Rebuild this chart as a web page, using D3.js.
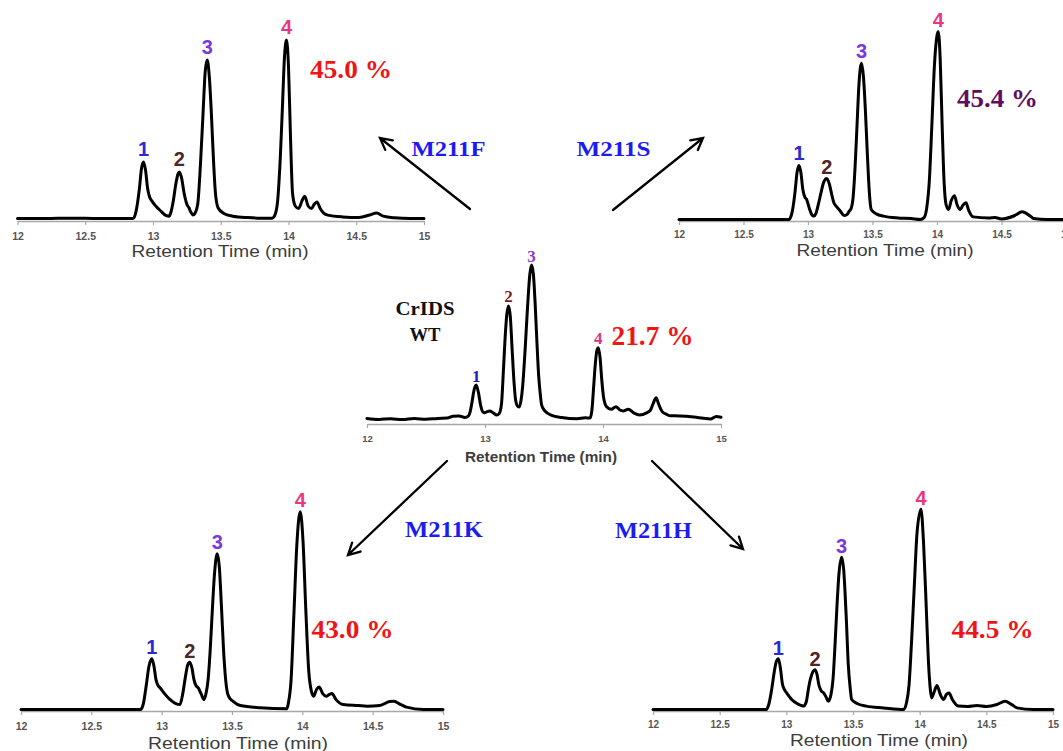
<!DOCTYPE html>
<html>
<head>
<meta charset="utf-8">
<script src="https://cdn.jsdelivr.net/npm/d3@7"></script>
<style>
  html, body { margin: 0; padding: 0; background: #fff; }
  svg { display: block; }
</style>
</head>
<body>
<svg id="chart" width="1063" height="751"></svg>
<script>
// Retention-time window and axis tick values
const timeDomain = [12, 15];
const ticksHalf = [12, 12.5, 13, 13.5, 14, 14.5, 15];
const ticksWhole = [12, 13, 14, 15];
const axisTitle = "Retention Time (min)";

// Chromatogram traces: [retention time (min), relative intensity (% of tallest peak)]
const traceWT = [
  [12.00,0.3],[12.10,-0.3],[12.20,0.2],[12.30,-0.4],[12.40,0.3],[12.50,-0.2],[12.60,0.4],[12.68,0.6],
  [12.73,1.8],[12.78,2],[12.83,1],[12.86,2],[12.875,5],[12.89,11],[12.905,18],[12.925,22],[12.945,17],
  [12.96,10],[12.975,5.5],[12.99,4],[13.01,4.5],[13.04,5.2],[13.07,4],[13.10,2.6],[13.12,3.5],
  [13.14,10],[13.155,30],[13.17,52],[13.185,68],[13.20,73.4],[13.215,66],[13.23,45],[13.245,25],
  [13.26,12],[13.28,8],[13.29,7.8],[13.305,12],[13.32,22],[13.34,45],[13.36,72],[13.38,94],[13.395,100],
  [13.41,94],[13.425,75],[13.44,50],[13.455,28],[13.47,15],[13.48,9],[13.51,5],[13.565,2.4],[13.65,1],
  [13.78,0.2],[13.85,0.8],[13.89,0.6],[13.905,5],[13.92,20],[13.935,36],[13.95,45],[13.96,46.3],
  [13.975,40],[13.99,25],[14.005,14],[14.03,8],[14.07,6.3],[14.11,8],[14.14,6],[14.17,5.2],[14.215,6.3],
  [14.26,4],[14.31,2.6],[14.37,4],[14.40,5.5],[14.425,10],[14.45,13.8],[14.47,10],[14.50,5],[14.54,3],
  [14.57,2.1],[14.65,2],[14.77,1.3],[14.85,0.5],[14.91,0],[14.96,1.7],[15.00,1.1]
];
const traceF = [
  [12.00,0],[12.20,0],[12.40,0.2],[12.60,0],[12.80,0],[12.85,0],[12.86,0.5],[12.88,6],[12.90,17],
  [12.915,28],[12.93,31.7],[12.945,27],[12.96,17],[12.975,12],[12.99,10],[13.02,7],[13.06,4],[13.10,1.5],
  [13.12,1.3],[13.13,3],[13.15,10],[13.17,20],[13.185,25],[13.195,26.1],[13.21,23],[13.23,14],[13.25,8],
  [13.265,6],[13.28,3.5],[13.295,2],[13.31,3],[13.33,8],[13.35,30],[13.37,60],[13.385,82],[13.40,88.8],
  [13.415,80],[13.43,60],[13.445,35],[13.46,15],[13.48,6],[13.52,3],[13.59,1.3],[13.70,0.5],[13.80,0.2],
  [13.88,0.2],[13.90,2],[13.92,10],[13.94,35],[13.955,62],[13.97,90],[13.985,100],[14.00,85],[14.015,45],
  [14.03,14],[14.05,7],[14.075,5.6],[14.10,10],[14.12,12.5],[14.145,7],[14.17,5.6],[14.19,8],[14.21,9.3],
  [14.235,5.5],[14.26,3],[14.29,1.9],[14.40,0.9],[14.52,0.6],[14.60,2],[14.65,3.1],[14.70,1.3],
  [14.78,0.4],[14.90,0],[15.00,0]
];
const traceS = [
  [12.00,0],[12.30,0],[12.60,0],[12.80,0],[12.85,0],[12.86,0.5],[12.88,5],[12.90,15],[12.915,25],
  [12.93,28.8],[12.945,25],[12.96,16],[12.975,12],[12.99,10.6],[13.01,6],[13.03,2.5],[13.045,1.8],
  [13.06,3],[13.08,8],[13.10,14],[13.12,19.5],[13.145,21.8],[13.165,19],[13.185,13],[13.20,9],[13.22,7],
  [13.25,4.5],[13.28,2.1],[13.30,2.5],[13.32,4.5],[13.335,6],[13.35,12],[13.365,28],[13.38,50],
  [13.395,72],[13.415,83.2],[13.43,76],[13.445,58],[13.46,35],[13.475,15],[13.49,5.3],[13.53,3],
  [13.585,1.8],[13.70,0.8],[13.80,0.5],[13.87,0],[13.90,1],[13.92,6],[13.94,20],[13.96,50],[13.98,82],
  [14.00,98],[14.01,100],[14.025,85],[14.04,50],[14.055,20],[14.07,8],[14.09,5.3],[14.11,10],[14.135,12.7],
  [14.155,8],[14.18,5.3],[14.20,7.5],[14.225,8.9],[14.245,5],[14.28,1.4],[14.40,0.8],[14.45,1],
  [14.50,0.3],[14.60,2],[14.66,4.1],[14.72,2],[14.75,0.5],[14.85,0],[15.00,0]
];
const traceK = [
  [12.00,0],[12.30,0],[12.60,0],[12.80,0],[12.85,0],[12.87,3],[12.89,12],[12.91,22],[12.93,25.7],
  [12.945,22],[12.96,15],[12.975,12],[12.99,10.9],[13.02,8],[13.06,5],[13.10,3],[13.13,2.5],[13.15,8],
  [13.17,17],[13.185,22.5],[13.20,23.9],[13.215,21],[13.23,15],[13.245,12],[13.26,10.9],[13.28,8],
  [13.30,5],[13.315,8],[13.33,15],[13.345,30],[13.36,50],[13.375,68],[13.395,78.7],[13.41,72],
  [13.425,52],[13.44,30],[13.455,15],[13.475,6.7],[13.51,4],[13.56,2],[13.70,0.9],[13.89,0.4],
  [13.90,3],[13.92,15],[13.94,48],[13.96,82],[13.985,100],[14.005,85],[14.025,50],[14.045,20],
  [14.065,9],[14.08,6.7],[14.10,10],[14.12,11.4],[14.145,8],[14.17,6.7],[14.19,7.5],[14.21,8.1],
  [14.24,5],[14.29,2.5],[14.40,2],[14.46,1.7],[14.55,2],[14.62,4],[14.65,4.2],[14.70,2.5],[14.74,1.2],
  [14.86,0],[15.00,0]
];
const traceH = [
  [12.00,0],[12.30,0],[12.60,0],[12.80,0],[12.85,0],[12.87,3],[12.89,10],[12.91,19],[12.925,24],
  [12.94,25.4],[12.955,21],[12.97,13],[12.985,10],[13.00,8.5],[13.04,5],[13.08,3],[13.13,1.7],[13.15,4],
  [13.165,10],[13.18,15],[13.20,19],[13.215,19.9],[13.23,17.5],[13.245,12],[13.26,9.5],[13.28,8.3],
  [13.30,6],[13.315,4.1],[13.335,7.5],[13.35,15],[13.365,32],[13.38,52],[13.395,68],[13.415,76.1],
  [13.43,70],[13.45,45],[13.465,22],[13.48,10],[13.49,5],[13.53,3],[13.60,1.7],[13.73,0.8],[13.88,0],
  [13.90,3],[13.92,12],[13.94,35],[13.96,62],[13.98,88],[14.01,100],[14.03,82],[14.05,50],[14.065,25],
  [14.08,10],[14.09,5.8],[14.11,9],[14.13,12],[14.155,7.5],[14.18,5],[14.20,7.5],[14.22,8.3],[14.245,5],
  [14.29,1.7],[14.36,1.5],[14.43,2],[14.50,1.5],[14.58,2.5],[14.64,4.1],[14.69,2.5],[14.73,0.8],
  [14.85,0],[15.00,0]
];

// Retention times of the numbered products in each run
const peakNumbers = ["1", "2", "3", "4"];
const peakTimesWT = [12.925, 13.20, 13.395, 13.96];
const peakTimesF = [12.93, 13.195, 13.40, 13.985];
const peakTimesS = [12.93, 13.145, 13.415, 14.01];
const peakTimesK = [12.93, 13.20, 13.395, 13.985];
const peakTimesH = [12.94, 13.215, 13.415, 14.01];

// Share of product 4 in each run
const shareWT = "21.7 %";
const shareF = "45.0 %";
const shareS = "45.4 %";
const shareK = "43.0 %";
const shareH = "44.5 %";

// Enzyme names
const wtName = ["CrIDS", "WT"];
const variantNames = ["M211F", "M211S", "M211K", "M211H"];

// ---- styling ----
const SANS = "'Liberation Sans', Arial, sans-serif";
const SERIF = "'Liberation Serif', 'Times New Roman', serif";
const sansNumColors = ["#2a2ad0", "#4e2626", "#7a38dc", "#e8377f"];
const serifNumColors = ["#2020b4", "#7a1e1e", "#8a3ccf", "#d83584"];

const panels = [
  { trace: traceF, peaks: peakTimesF, xr: [17.5, 424], axisY: 221, baseY: 218.5, topY: 40,
    ticks: ticksHalf, tickPad: 8, tickFont: 10.5, titleX: 220, titleY: 257, titleW: 177, titleFont: 16, titleBold: false,
    numStyle: "sans", numGap: 6,
    share: { text: shareF, x: 310, y: 78.3, w: 82, color: "#ee1515", size: 26 } },
  { trace: traceS, peaks: peakTimesS, xr: [679, 1066], axisY: 221, baseY: 219.5, topY: 31.7,
    ticks: ticksHalf, tickPad: 6, tickFont: 10, titleX: 885, titleY: 256, titleW: 177, titleFont: 16, titleBold: false,
    numStyle: "sans", numGap: 5,
    share: { text: shareS, x: 957, y: 106.7, w: 81, color: "#5e0e5e", size: 26 } },
  { trace: traceWT, peaks: peakTimesWT, xr: [367, 721], axisY: 424, baseY: 419, topY: 265,
    ticks: ticksWhole, tickPad: 7, tickFont: 9.5, titleX: 541, titleY: 462, titleW: 152, titleFont: 14, titleBold: true,
    numStyle: "serif", numGap: 3.5,
    share: { text: shareWT, x: 611.5, y: 344.5, w: 82, color: "#ee1515", size: 28 } },
  { trace: traceK, peaks: peakTimesK, xr: [21, 443], axisY: 711, baseY: 709.5, topY: 511.7,
    ticks: ticksHalf, tickPad: 8, tickFont: 10.5, titleX: 238, titleY: 748.5, titleW: 180, titleFont: 16, titleBold: false,
    numStyle: "sans", numGap: 4.5,
    share: { text: shareK, x: 311.5, y: 638.3, w: 82, color: "#ee1515", size: 26 } },
  { trace: traceH, peaks: peakTimesH, xr: [653, 1053], axisY: 711, baseY: 709.5, topY: 509.3,
    ticks: ticksHalf, tickPad: 6, tickFont: 10, titleX: 879, titleY: 746, titleW: 178, titleFont: 16, titleBold: false,
    numStyle: "sans", numGap: 4,
    share: { text: shareH, x: 951.5, y: 638.3, w: 82, color: "#ee1515", size: 26 } }
];

// Arrows from the wild type to each variant, with the variant names beside them
const arrows = [
  { from: [470, 209], to: [380, 138], name: variantNames[0], lx: 411.5, ly: 156, lw: 74, ls: 22 },
  { from: [613, 210], to: [703, 138], name: variantNames[1], lx: 576.5, ly: 156, lw: 74, ls: 22 },
  { from: [447, 461], to: [348, 555], name: variantNames[2], lx: 405, ly: 536.5, lw: 78, ls: 23 },
  { from: [652, 461], to: [743, 549], name: variantNames[3], lx: 615, ly: 538, lw: 77, ls: 23 }
];

const svg = d3.select("#chart");

panels.forEach(p => {
  const x = d3.scaleLinear().domain(timeDomain).range(p.xr);
  const y = d3.scaleLinear().domain([0, 100]).range([p.baseY, p.topY]);
  const g = svg.append("g");

  // x axis
  const axis = d3.axisBottom(x)
    .tickValues(p.ticks)
    .tickFormat(d => String(d))
    .tickSize(4)
    .tickSizeOuter(0)
    .tickPadding(p.tickPad);
  const ax = g.append("g").attr("transform", `translate(0,${p.axisY})`).call(axis);
  ax.select(".domain").attr("stroke", "#a8a8a8").attr("stroke-width", 1.3);
  ax.selectAll(".tick line").attr("stroke", "#a8a8a8").attr("stroke-width", 1.2);
  ax.selectAll(".tick text")
    .attr("fill", "#555")
    .attr("font-family", SANS)
    .attr("font-weight", "bold")
    .attr("font-size", p.tickFont);

  g.append("text")
    .attr("x", p.titleX).attr("y", p.titleY)
    .attr("text-anchor", "middle")
    .attr("font-family", SANS)
    .attr("font-size", p.titleFont)
    .attr("font-weight", p.titleBold ? "bold" : "normal")
    .attr("fill", "#3c3c3c")
    .attr("textLength", p.titleW)
    .attr("lengthAdjust", "spacingAndGlyphs")
    .text(axisTitle);

  // trace
  const line = d3.line()
    .x(d => x(d[0]))
    .y(d => y(d[1]))
    .curve(d3.curveMonotoneX);
  g.append("path")
    .datum(p.trace)
    .attr("d", line)
    .attr("fill", "none")
    .attr("stroke", "#000")
    .attr("stroke-width", 3)
    .attr("stroke-linejoin", "round")
    .attr("stroke-linecap", "round");

  // numbered products above their peaks
  p.peaks.forEach((t, i) => {
    const near = p.trace.filter(d => Math.abs(d[0] - t) < 0.02);
    const h = d3.max(near, d => d[1]);
    const serif = p.numStyle === "serif";
    g.append("text")
      .attr("x", x(t))
      .attr("y", y(h) - p.numGap)
      .attr("text-anchor", "middle")
      .attr("font-family", serif ? SERIF : SANS)
      .attr("font-weight", "bold")
      .attr("font-size", serif ? 17 : 20)
      .attr("fill", serif ? serifNumColors[i] : sansNumColors[i])
      .text(peakNumbers[i]);
  });

  // share of product 4
  g.append("text")
    .attr("x", p.share.x).attr("y", p.share.y)
    .attr("font-family", SERIF)
    .attr("font-weight", "bold")
    .attr("font-size", p.share.size)
    .attr("fill", p.share.color)
    .attr("textLength", p.share.w)
    .attr("lengthAdjust", "spacingAndGlyphs")
    .text(p.share.text);
});

// wild-type name
[[wtName[0], 315, 59], [wtName[1], 341, 31]].forEach(([txt, yy, w]) => {
  svg.append("text")
    .attr("x", 425).attr("y", yy)
    .attr("text-anchor", "middle")
    .attr("font-family", SERIF)
    .attr("font-weight", "bold")
    .attr("font-size", 19)
    .attr("fill", "#111")
    .attr("textLength", w)
    .attr("lengthAdjust", "spacingAndGlyphs")
    .text(txt);
});

// arrows with open heads
const headLen = 13, headAngle = 28 * Math.PI / 180;
arrows.forEach(a => {
  const [x1, y1] = a.from, [x2, y2] = a.to;
  const ang = Math.atan2(y1 - y2, x1 - x2);
  const p1 = [x2 + headLen * Math.cos(ang + headAngle), y2 + headLen * Math.sin(ang + headAngle)];
  const p2 = [x2 + headLen * Math.cos(ang - headAngle), y2 + headLen * Math.sin(ang - headAngle)];
  const path = d3.path();
  path.moveTo(x1, y1); path.lineTo(x2, y2);
  path.moveTo(p1[0], p1[1]); path.lineTo(x2, y2); path.lineTo(p2[0], p2[1]);
  svg.append("path")
    .attr("d", path.toString())
    .attr("fill", "none")
    .attr("stroke", "#000")
    .attr("stroke-width", 2.3)
    .attr("stroke-linecap", "round")
    .attr("stroke-linejoin", "miter");
  svg.append("text")
    .attr("x", a.lx).attr("y", a.ly)
    .attr("font-family", SERIF)
    .attr("font-weight", "bold")
    .attr("font-size", a.ls)
    .attr("fill", "#1c1cf0")
    .attr("textLength", a.lw)
    .attr("lengthAdjust", "spacingAndGlyphs")
    .text(a.name);
});
</script>
</body>
</html>
